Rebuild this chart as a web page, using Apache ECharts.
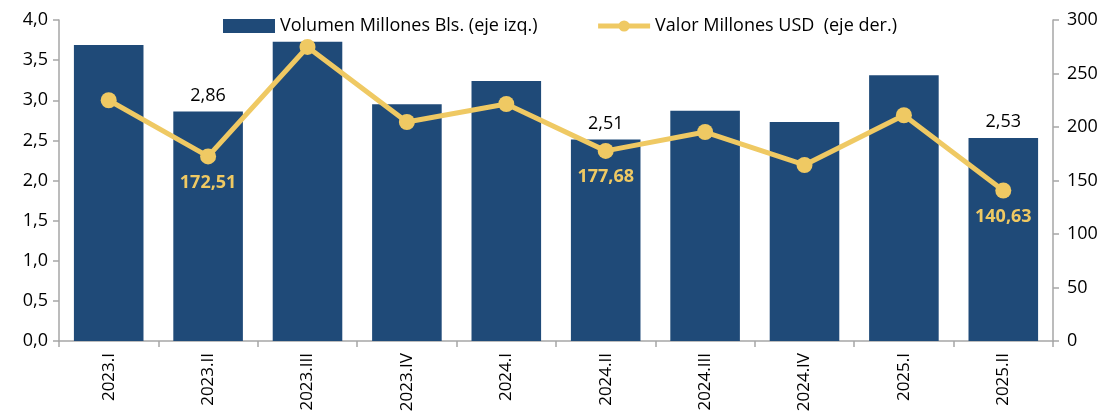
<!DOCTYPE html>
<html>
<head>
<meta charset="utf-8">
<script src="https://cdn.jsdelivr.net/npm/echarts@6/dist/echarts.min.js"></script>
<style>
  html, body { margin: 0; padding: 0; background: #fff; }
  #chart { width: 1112px; height: 418px; }
</style>
</head>
<body>
<div id="chart"></div>
<script>
const categories = ['2023.I', '2023.II', '2023.III', '2023.IV', '2024.I', '2024.II', '2024.III', '2024.IV', '2025.I', '2025.II']
const volumen = [3.69, 2.86, 3.73, 2.95, 3.24, 2.51, 2.87, 2.73, 3.31, 2.53]
const valor = [225.0, 172.51, 274.8, 204.7, 221.5, 177.68, 195.3, 164.5, 211.0, 140.63]
// only these points carry a value label
const labelled = [1, 5, 9]

const fontFamily = '"Open Sans", "Noto Sans", sans-serif'
const axisGrey = '#A6A6A6'
const barColor = '#1F4A78'
const lineColor = '#EFC963'

const fmt = (v, d) => v.toFixed(d).replace('.', ',')

const chart = echarts.init(document.getElementById('chart'))
chart.setOption({
  animation: false,
  textStyle: { fontFamily },
  legend: {
    top: 12,
    left: 218,
    itemGap: 58,
    itemWidth: 52,
    itemHeight: 14,
    textStyle: { fontSize: 18, color: '#000', fontFamily },
    data: [
      { name: 'Volumen Millones Bls. (eje izq.)', icon: 'rect' },
      { name: 'Valor Millones USD  (eje der.)', lineStyle: { width: 5 } }
    ]
  },
  grid: {
    left: 59,
    right: 59,
    top: 20,
    bottom: 77
  },
  xAxis: {
    type: 'category',
    data: categories,
    axisLine: { lineStyle: { color: axisGrey, width: 1.5 } },
    axisTick: { show: true, length: 6, lineStyle: { color: axisGrey, width: 1.5 } },
    axisLabel: { rotate: 90, color: '#000', fontSize: 17, margin: 12 }
  },
  yAxis: [{
    type: 'value',
    min: 0,
    max: 4,
    interval: 0.5,
    splitLine: { show: false },
    axisLine: { show: true, lineStyle: { color: axisGrey, width: 1.5 } },
    axisTick: { show: true, length: 6, lineStyle: { color: axisGrey, width: 1.5 } },
    axisLabel: { color: '#000', fontSize: 18, margin: 11, formatter: v => fmt(v, 1) }
  }, {
    type: 'value',
    min: 0,
    max: 300,
    interval: 50,
    splitLine: { show: false },
    axisLine: { show: true, lineStyle: { color: axisGrey, width: 1.5 } },
    axisTick: { show: true, length: 6, lineStyle: { color: axisGrey, width: 1.5 } },
    axisLabel: { color: '#000', fontSize: 18, margin: 14 }
  }],
  series: [{
    name: 'Volumen Millones Bls. (eje izq.)',
    type: 'bar',
    barWidth: '70%',
    itemStyle: { color: barColor },
    data: volumen.map((v, i) => ({
      value: v,
      label: {
        show: labelled.includes(i),
        position: 'top',
        distance: 7,
        color: '#000',
        fontSize: 18,
        formatter: p => fmt(p.value, 2)
      }
    }))
  }, {
    name: 'Valor Millones USD  (eje der.)',
    type: 'line',
    yAxisIndex: 1,
    symbol: 'circle',
    symbolSize: 16,
    lineStyle: { color: lineColor, width: 5 },
    itemStyle: { color: lineColor },
    data: valor.map((v, i) => ({
      value: v,
      label: {
        show: labelled.includes(i),
        position: 'bottom',
        distance: 9,
        color: lineColor,
        fontWeight: 'bold',
        fontSize: 18,
        formatter: p => fmt(p.value, 2)
      }
    }))
  }]
})
</script>
</body>
</html>
